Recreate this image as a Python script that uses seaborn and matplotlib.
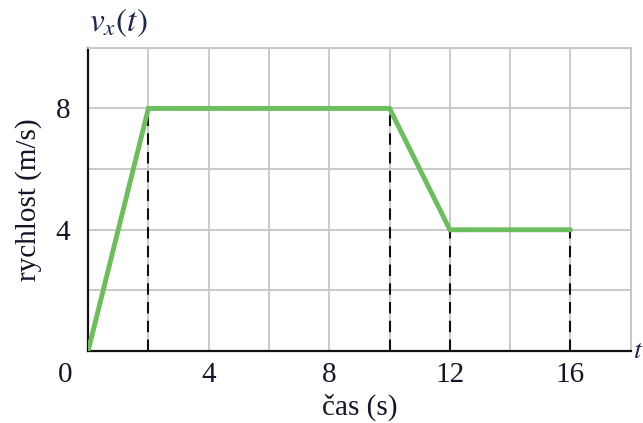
import numpy as np
import pandas as pd
import matplotlib
matplotlib.use("Agg")
import matplotlib.pyplot as plt
import seaborn as sns

# data
cas = [0, 2, 10, 12, 16]          # s
rychlost = [0, 8, 8, 4, 4]        # m/s
x_ticks = [4, 8, 12, 16]
y_ticks = [4, 8]

df = pd.DataFrame({"cas": cas, "rychlost": rychlost})

sns.set_style("white")
plt.rcParams["font.family"] = ["Liberation Serif", "DejaVu Serif"]
plt.rcParams["mathtext.fontset"] = "stix"

txt = "#14142a"
fs = 21
fig = plt.figure(figsize=(6.43, 4.23), dpi=100)
ax = fig.add_axes([0.137, 0.170, 0.844, 0.717])

# grid every 2 units
ax.set_xticks(np.arange(0, 19, 2), minor=True)
ax.set_yticks(np.arange(0, 11, 2), minor=True)
ax.grid(True, which="both", color="#c6c6c6", lw=1.3)
ax.set_axisbelow(True)

# dashed guide lines from the corner points down to the axis
ax.vlines(cas[1:], 0, rychlost[1:], colors="#111111", lw=1.5,
          linestyles=(0, (5.5, 3.5)), zorder=2)

sns.lineplot(data=df, x="cas", y="rychlost", color="#6cbd5b", lw=3.5,
             ax=ax, zorder=3, solid_joinstyle="miter")

ax.set_xlim(0, 18)
ax.set_ylim(0, 10)
ax.set_xticks(x_ticks)
ax.set_xticklabels([str(v) for v in x_ticks])
ax.set_yticks(y_ticks)
ax.set_yticklabels([str(v) for v in y_ticks])
ax.tick_params(which="both", length=0, labelsize=fs, colors=txt, pad=8)
ax.tick_params(axis="y", pad=13)

for s in ["top", "right"]:
    ax.spines[s].set_color("#c6c6c6")
    ax.spines[s].set_linewidth(1.3)
for s in ["left", "bottom"]:
    ax.spines[s].set_color("#111111")
    ax.spines[s].set_linewidth(1.6)

ax.set_xlabel("čas (s)", fontsize=fs, color=txt, labelpad=4)
ax.set_ylabel("rychlost (m/s)", fontsize=fs, color=txt, labelpad=10)

# shared zero at the corner, axis names at the ends
ax.annotate("0", xy=(0, 0), xytext=(-11, -8), textcoords="offset points",
            fontsize=fs, color=txt, ha="right", va="top")
ax.text(0.055, 1.03, r"$v_x(t)$", transform=ax.transAxes, fontsize=24,
        color="#1a2550", ha="center", va="bottom")
fig.text(0.984, 0.17, r"$t$", fontsize=20, color="#1a2550",
         ha="left", va="center")

fig.savefig("out.png", dpi=100)
